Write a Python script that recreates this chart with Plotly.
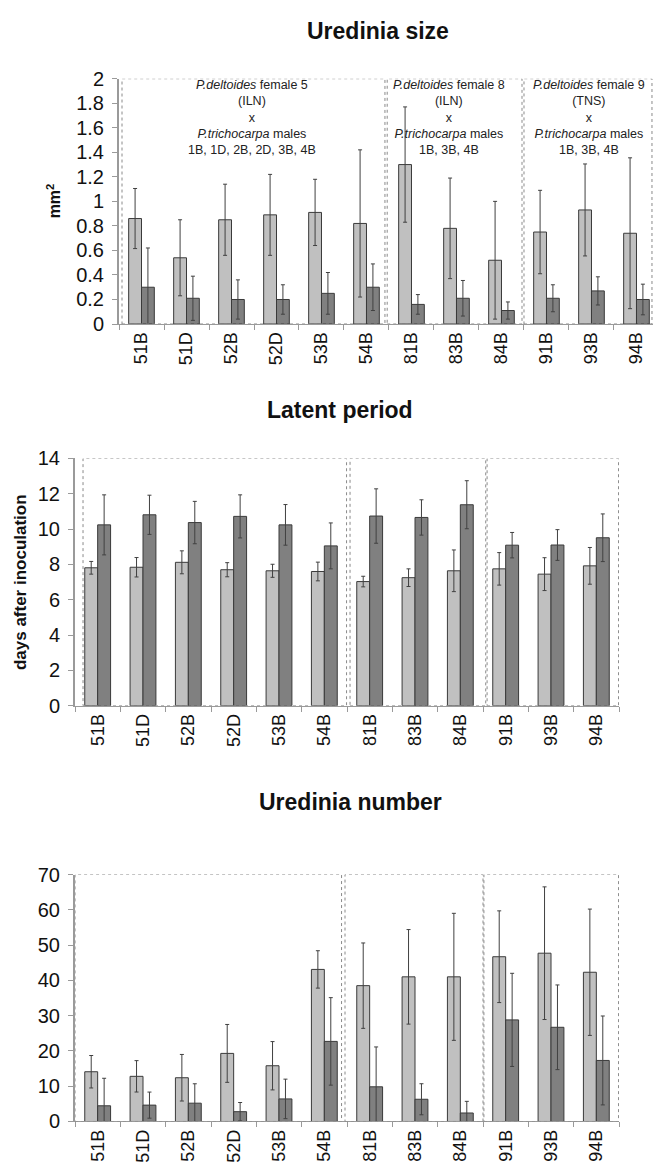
import plotly.graph_objects as go

# Crosses (clone names)
categories = ["51B", "51D", "52B", "52D", "53B", "54B",
              "81B", "83B", "84B", "91B", "93B", "94B"]

# Uredinia size (mm2): light = first series, dark = second series
size_light = [0.86, 0.54, 0.85, 0.89, 0.91, 0.82, 1.30, 0.78, 0.52, 0.75, 0.93, 0.74]
size_light_err = [0.245, 0.31, 0.29, 0.33, 0.27, 0.60, 0.47, 0.41, 0.48, 0.34, 0.375, 0.615]
size_dark = [0.30, 0.21, 0.20, 0.20, 0.25, 0.30, 0.16, 0.21, 0.11, 0.21, 0.27, 0.20]
size_dark_err = [0.32, 0.18, 0.16, 0.12, 0.17, 0.19, 0.08, 0.145, 0.07, 0.11, 0.115, 0.125]

# Latent period (days after inoculation)
latent_light = [7.81, 7.84, 8.12, 7.70, 7.64, 7.60, 7.03, 7.25, 7.64, 7.75, 7.45, 7.92]
latent_light_err = [0.36, 0.55, 0.65, 0.40, 0.37, 0.53, 0.30, 0.50, 1.18, 0.92, 0.93, 1.04]
latent_dark = [10.24, 10.81, 10.37, 10.72, 10.24, 9.05, 10.74, 10.66, 11.38, 9.09, 9.10, 9.51]
latent_dark_err = [1.70, 1.11, 1.20, 1.22, 1.15, 1.30, 1.54, 1.00, 1.36, 0.72, 0.87, 1.35]

# Uredinia number
number_light = [14.1, 12.8, 12.4, 19.3, 15.8, 43.1, 38.5, 41.0, 41.0, 46.7, 47.7, 42.3]
number_light_err = [4.6, 4.45, 6.6, 8.2, 6.85, 5.3, 12.1, 13.4, 18.0, 13.0, 18.8, 17.9]
number_dark = [4.45, 4.64, 5.19, 2.78, 6.40, 22.7, 9.83, 6.30, 2.41, 28.8, 26.7, 17.3]
number_dark_err = [7.8, 3.7, 5.5, 2.6, 5.6, 12.4, 11.3, 4.4, 3.3, 13.2, 12.0, 12.6]

# Cross group labels for the top panel
group_labels = [
    "<i>P.deltoides</i> female 5<br>(ILN)<br>x<br><i>P.trichocarpa</i> males<br>1B, 1D, 2B, 2D, 3B, 4B",
    "<i>P.deltoides</i> female 8<br>(ILN)<br>x<br><i>P.trichocarpa</i> males<br>1B, 3B, 4B",
    "<i>P.deltoides</i> female 9<br>(TNS)<br>x<br><i>P.trichocarpa</i> males<br>1B, 3B, 4B",
]

W, H = 653, 1174
FONT = "Arial, Liberation Sans, sans-serif"
LIGHT = "#c0c0c0"
DARK = "#808080"
EDGE = "#3a3a3a"
AXIS = "#9a9a9a"


def px_x(p):
    return p / W


def px_y(p):
    return (H - p) / H


panels = [
    # (axis suffix, light, light err, dark, dark err, y range, dtick, x px span, y px span, x range end)
    ("", size_light, size_light_err, size_dark, size_dark_err, 2, 0.2, (119, 653), (69, 319), 11.367),
    ("2", latent_light, latent_light_err, latent_dark, latent_dark_err, 14, 2, (75, 619), (456, 708), 11.5),
    ("3", number_light, number_light_err, number_dark, number_dark_err, 70, 10, (75, 619), (880, 1131.7), 11.5),
]

fig = go.Figure()
layout = dict(
    width=W, height=H,
    margin=dict(l=0, r=0, t=0, b=0),
    paper_bgcolor="white", plot_bgcolor="white",
    barmode="group", bargap=0.43, bargroupgap=0.0,
    showlegend=False,
    font=dict(family=FONT, color="#111111"),
)

for suf, lv, le, dv, de, ymax, dtick, xs, ys, xend in panels:
    xa = "x" + suf
    ya = "y" + suf
    for vals, errs, col in ((lv, le, LIGHT), (dv, de, DARK)):
        fig.add_trace(go.Bar(
            x=categories, y=vals, xaxis=xa, yaxis=ya,
            marker=dict(color=col, line=dict(color=EDGE, width=1)),
            error_y=dict(type="data", array=errs, visible=True,
                         color="#404040", thickness=1, width=2),
        ))
    layout["xaxis" + suf] = dict(
        domain=[px_x(xs[0]), px_x(xs[1])], anchor=ya,
        type="category", range=[-0.5, xend],
        showline=True, linecolor=AXIS, linewidth=1,
        ticks="outside", tickson="boundaries", ticklen=5, tickcolor=AXIS,
        tickangle=-90, tickfont=dict(size=18, family=FONT, color="#111111"),
        showgrid=False, zeroline=False,
    )
    layout["yaxis" + suf] = dict(
        domain=[px_y(ys[1]), px_y(ys[0])], anchor=xa,
        range=[0, ymax], dtick=dtick, tick0=0,
        showline=True, linecolor=AXIS, linewidth=2,
        ticks="outside", ticklen=5, tickcolor=AXIS, ticklabelstandoff=4,
        tickfont=dict(size=20, family=FONT, color="#111111"),
        showgrid=False, zeroline=False,
    )

fig.update_layout(**layout)

# Dotted frames around each cross group
frames = [
    ("", 2, [(-0.433, 5.41), (5.46, 8.456), (8.5, 11.344)]),
    ("2", 14, [(-0.323, 5.49), (5.567, 8.56), (8.59, 11.49)]),
    ("3", 70, [(-0.5, 5.38), (5.456, 8.5), (8.52, 11.49)]),
]
for suf, ymax, spans in frames:
    for x0, x1 in spans:
        fig.add_shape(type="rect", xref="x" + suf, yref="y" + suf,
                      x0=x0, x1=x1, y0=0, y1=ymax,
                      line=dict(color="#8a8a8a", width=1, dash="dot"),
                      layer="above")

# Cross descriptions in the top panel
for xc, txt in zip([2.45, 6.83, 9.94], group_labels):
    fig.add_annotation(x=xc, y=1.685, xref="x", yref="y", text=txt,
                       showarrow=False, xanchor="center", yanchor="middle",
                       font=dict(size=12.5, family=FONT, color="#222222"))

# Panel titles
for xc, yc, txt in [(378, 20, "Uredinia size"), (339.5, 407, "Latent period"),
                    (350, 806, "Uredinia number")]:
    fig.add_annotation(x=px_x(xc), y=px_y(yc), xref="paper", yref="paper",
                       text="<b>" + txt + "</b>", showarrow=False,
                       xanchor="center", yanchor="middle",
                       font=dict(size=23, family=FONT, color="#111111"))

# Y axis titles
fig.add_annotation(x=px_x(54), y=px_y(194), xref="paper", yref="paper",
                   text="<b>mm<sup>2</sup></b>", showarrow=False, textangle=-90,
                   xanchor="center", yanchor="middle",
                   font=dict(size=16, family=FONT, color="#111111"))
fig.add_annotation(x=px_x(20), y=px_y(582), xref="paper", yref="paper",
                   text="<b>days after inoculation</b>", showarrow=False, textangle=-90,
                   xanchor="center", yanchor="middle",
                   font=dict(size=17, family=FONT, color="#111111"))

fig.write_html("out.html")
